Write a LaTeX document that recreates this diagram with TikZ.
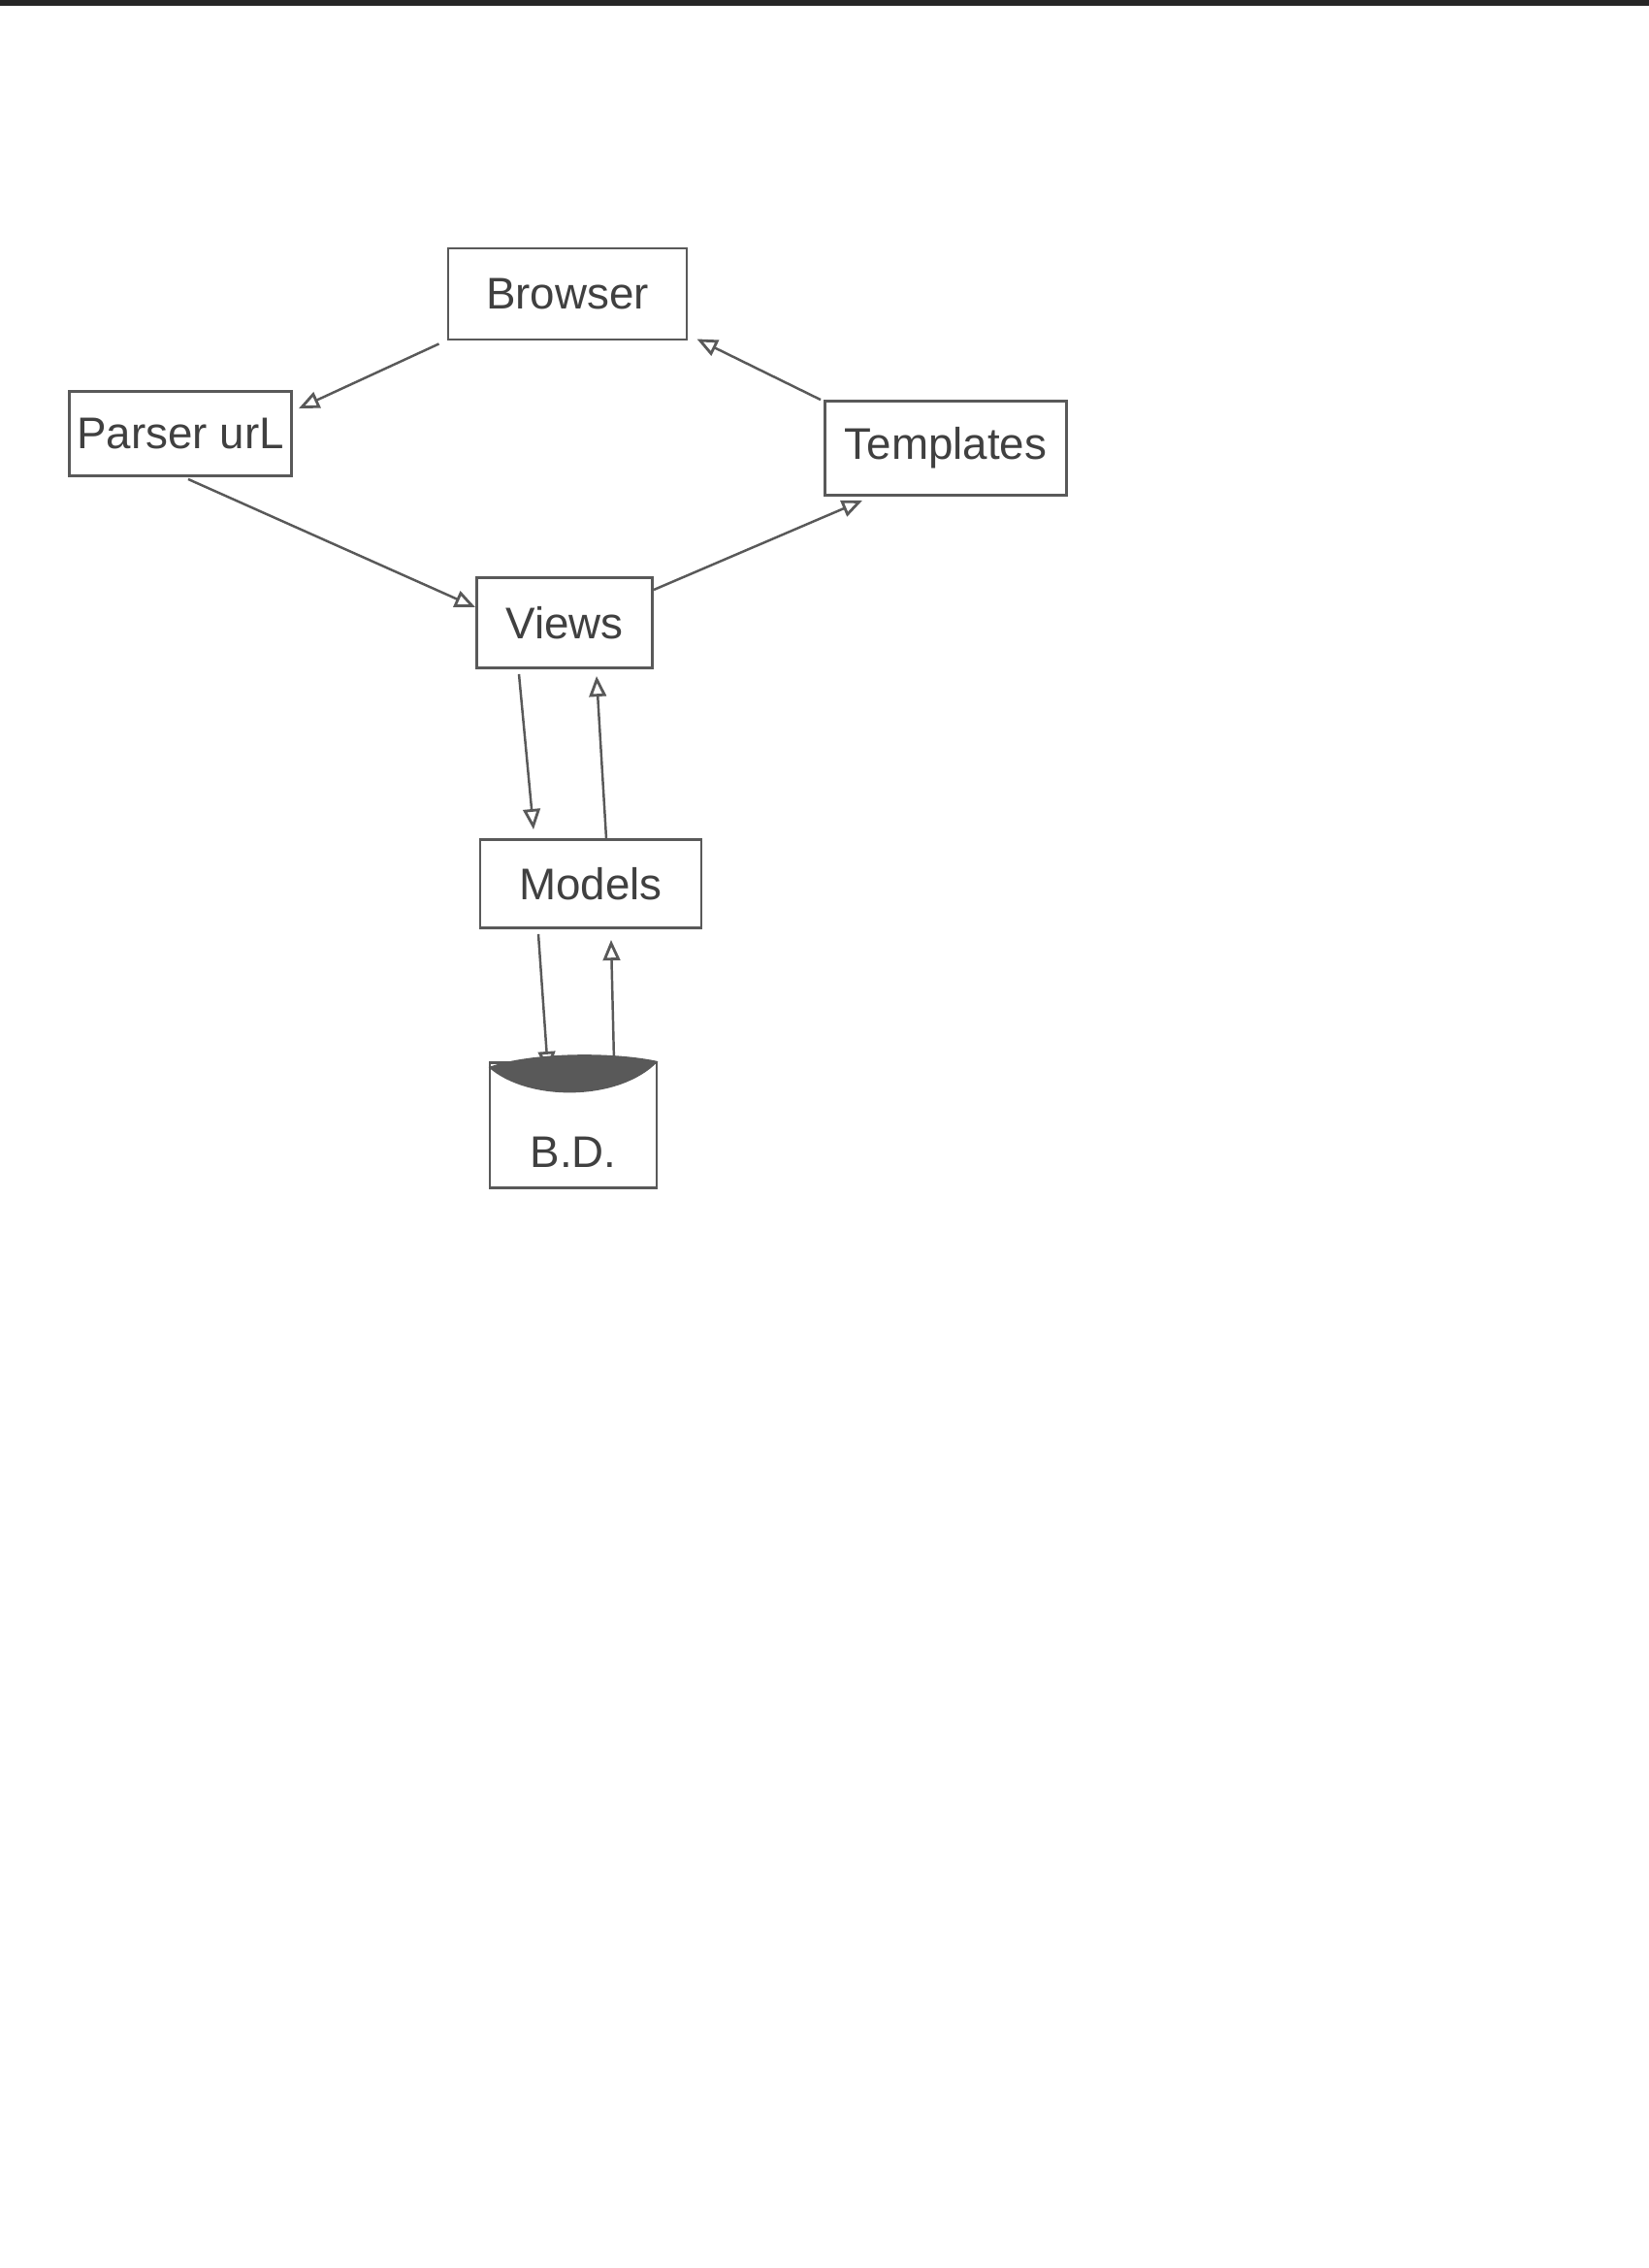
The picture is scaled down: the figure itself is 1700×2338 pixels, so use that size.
\documentclass[tikz,border=0pt]{standalone}
\usepackage{fontspec}
\setmainfont{Liberation Sans}
\usetikzlibrary{arrows.meta,calc}
\definecolor{pencil}{gray}{0.35}
\definecolor{pencilink}{gray}{0.25}
\tikzset{
  box/.style={draw=pencil, line width=0.8pt, rectangle, inner sep=0pt,
    text=pencilink, font=\fontsize{13}{15}\selectfont},
  link/.style={draw=pencil, line width=0.7pt,
    -{Triangle[open, length=6pt, width=5pt, line width=0.8pt]}}
}
\begin{document}
\begin{tikzpicture}[x=0.01cm, y=-0.01cm]
\path[use as bounding box, fill=white] (0,0) rectangle (1700,2338);
\fill[black!85] (0,0) rectangle (1700,6);
\node[box, minimum width=2.46cm, minimum height=0.94cm] (browser) at (585,303) {Browser};
\node[box, minimum width=2.29cm, minimum height=0.87cm] (parser) at (186,447) {Parser urL};
\node[box, minimum width=2.49cm, minimum height=0.97cm] (templates) at (975,462) {Templates};
\node[box, minimum width=1.81cm, minimum height=0.93cm] (views) at (582,642) {Views};
\node[box, minimum width=2.28cm, minimum height=0.91cm] (models) at (609,911) {Models};
\node[box, minimum width=1.72cm, minimum height=1.29cm] (bd) at (591,1160) {\rule{0pt}{25pt}B.D.};
\fill[pencil] ($(bd.north west)+(0,6)$) .. controls ($(bd.north west)+(45,-10)$) and ($(bd.north east)+(-45,-10)$) .. ($(bd.north east)+(0,0)$)
  .. controls ($(bd.north east)+(-40,42)$) and ($(bd.north west)+(40,42)$) .. cycle;
\draw[link] ($(browser.south west)+(-8,3)$) -- ($(parser.north east)+(6,19)$);
\draw[link] ($(templates.north west)+(-3,0)$) -- ($(browser.south east)+(9,-2)$);
\draw[link] ($(parser.south)+(8,2)$) -- ($(views.west)+(0,-16)$);
\draw[link] ($(views.east)+(0,-34)$) -- ($(templates.south west)+(40,4)$);
\draw[link] ($(views.south)+(-47,5)$) -- ($(models.north)+(-59,-9)$);
\draw[link] ($(models.north)+(16,0)$) -- ($(views.south)+(33,7)$);
\draw[link] ($(models.south)+(-54,5)$) -- ($(bd.north)+(-26,11)$);
\draw[link] ($(bd.north)+(42,0)$) -- ($(models.south)+(21,11)$);
\end{tikzpicture}
\end{document}
